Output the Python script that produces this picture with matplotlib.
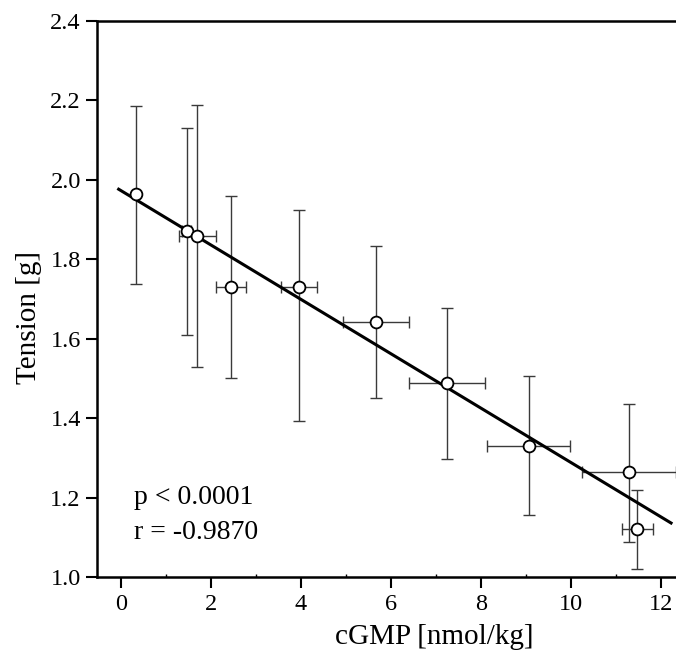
import numpy as np
import matplotlib
matplotlib.use('Agg')
import matplotlib.pyplot as plt
from matplotlib.ticker import MultipleLocator

# data
cgmp = [0.33, 1.46, 1.70, 2.44, 3.96, 5.67, 7.24, 9.06, 11.29, 11.47]
cgmp_err = [0.0, 0.10, 0.42, 0.33, 0.40, 0.73, 0.85, 0.92, 1.05, 0.35]
tension = [1.964, 1.870, 1.859, 1.729, 1.729, 1.641, 1.488, 1.331, 1.264, 1.120]
tension_lo = [0.225, 0.260, 0.330, 0.229, 0.337, 0.191, 0.191, 0.175, 0.176, 0.101]
tension_hi = [0.223, 0.261, 0.329, 0.231, 0.195, 0.193, 0.189, 0.174, 0.171, 0.100]

# fitted regression line
fit_intercept = 1.973
fit_slope = -0.0685
fit_range = [-0.05, 12.22]

stats_text = ['p < 0.0001', 'r = -0.9870']

plt.rcParams['font.family'] = 'serif'
plt.rcParams['font.serif'] = ['Liberation Serif', 'DejaVu Serif']

fig = plt.figure(figsize=(6.76, 6.64), dpi=100, facecolor='white')
ax = fig.add_axes([97.5 / 676, 1 - 577 / 664, 1 - 97.5 / 676, (577 - 21) / 664])

ax.errorbar(cgmp, tension, yerr=[tension_lo, tension_hi], xerr=cgmp_err,
            fmt='none', ecolor='#3a3a3a', elinewidth=1.0, capsize=4.5,
            capthick=1.0, zorder=2)

xs = np.array(fit_range)
ax.plot(xs, fit_intercept + fit_slope * xs, color='black', lw=2.2, zorder=3)

ax.plot(cgmp, tension, 'o', ms=8.5, mfc='white', mec='black', mew=1.3, zorder=4)

ax.set_xlim(-0.52, 12.33)
ax.set_ylim(1.0, 2.4)
ax.xaxis.set_major_locator(MultipleLocator(2))
ax.xaxis.set_minor_locator(MultipleLocator(1))
ax.yaxis.set_major_locator(MultipleLocator(0.2))
ax.yaxis.set_major_formatter(matplotlib.ticker.FormatStrFormatter('%.1f'))

ax.tick_params(axis='both', which='major', direction='out', length=8,
               width=1.5, labelsize=17.5, pad=4)
ax.tick_params(axis='x', which='minor', direction='in', length=2, width=1)

for s in ['left', 'bottom', 'top']:
    ax.spines[s].set_linewidth(1.8)
ax.spines['right'].set_visible(False)

ax.text(0.29, 1.20, stats_text[0], fontsize=20, va='center', ha='left')
ax.text(0.29, 1.113, stats_text[1], fontsize=20, va='center', ha='left')

# the original plot area runs past the right edge, so the x label sits right of centre
ax.set_xlabel('cGMP [nmol/kg]', fontsize=21, labelpad=7, x=(434 - 97.5) / (676 - 97.5))
ax.set_ylabel('Tension [g]', fontsize=21, labelpad=6, y=(577 - 317) / (577 - 21))

fig.savefig('out.png', dpi=100, facecolor='white')
